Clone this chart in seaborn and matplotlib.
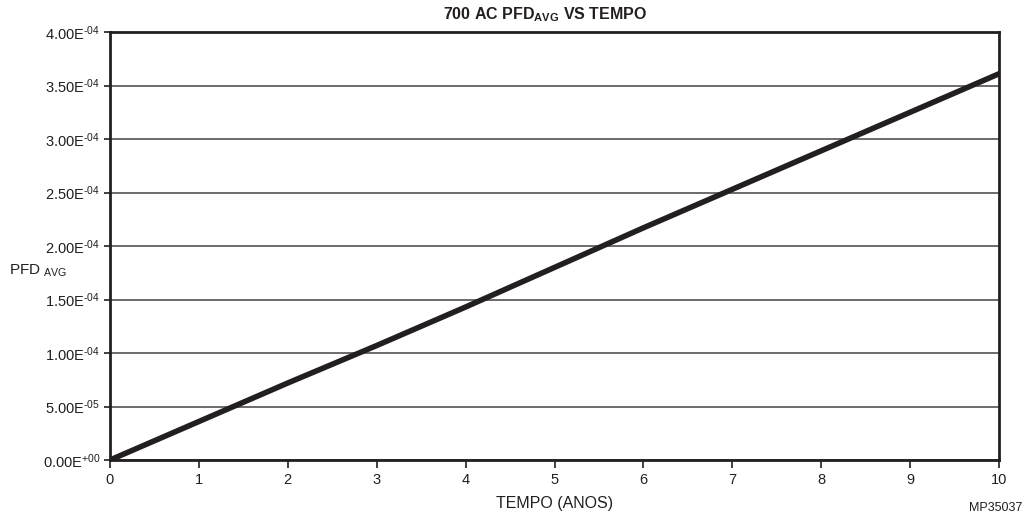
import numpy as np
import pandas as pd
import seaborn as sns
import matplotlib.pyplot as plt
from matplotlib.ticker import FixedLocator

# data
years = [0, 1, 2, 3, 4, 5, 6, 7, 8, 9, 10]
pfd_avg = [0.0, 3.6e-5, 7.2e-5, 1.07e-4, 1.43e-4, 1.80e-4, 2.17e-4,
           2.53e-4, 2.89e-4, 3.25e-4, 3.61e-4]
y_ticks = [0, 5e-5, 1e-4, 1.5e-4, 2e-4, 2.5e-4, 3e-4, 3.5e-4, 4e-4]
y_tick_labels = ["0.00E$^{\\text{+00}}$", "5.00E$^{\\text{-05}}$", "1.00E$^{\\text{-04}}$",
                 "1.50E$^{\\text{-04}}$", "2.00E$^{\\text{-04}}$", "2.50E$^{\\text{-04}}$",
                 "3.00E$^{\\text{-04}}$", "3.50E$^{\\text{-04}}$", "4.00E$^{\\text{-04}}$"]

df = pd.DataFrame({"tempo": years, "pfd": pfd_avg})

sns.set_style("white")
plt.rcParams['font.family'] = ['Liberation Sans', 'DejaVu Sans']
plt.rcParams['mathtext.fontset'] = 'custom'
plt.rcParams['mathtext.rm'] = 'Liberation Sans'
plt.rcParams['mathtext.bf'] = 'Liberation Sans:bold'
plt.rcParams['mathtext.default'] = 'regular'

ink = '#231f20'
fig = plt.figure(figsize=(10.26, 5.14), dpi=100)
ax = fig.add_axes([0.1072, 0.105, 0.8665, 0.8327])

ax.yaxis.set_major_locator(FixedLocator(y_ticks))
ax.yaxis.grid(True, color='#444444', linewidth=1.1)
ax.set_axisbelow(True)

sns.lineplot(data=df, x="tempo", y="pfd", ax=ax, color=ink, linewidth=4.0)

ax.set_xlim(0, 10)
ax.set_ylim(0, 4e-4)
ax.set_xticks(years)
ax.set_yticks(y_ticks)
ax.set_yticklabels(y_tick_labels)
ax.tick_params(axis='both', direction='out', width=1.2, color=ink,
               labelsize=10.5, labelcolor=ink, left=True, bottom=True)
ax.tick_params(axis='x', length=6, pad=3.4)
ax.tick_params(axis='y', length=4, pad=3)

for side in ax.spines.values():
    side.set_color(ink)
    side.set_linewidth(2.0)

ax.set_xlabel("TEMPO (ANOS)", fontsize=11.5, color=ink, va='center')
ax.xaxis.set_label_coords(0.5, -0.1005)
ax.set_ylabel("")
fig.text(0.009, 0.474, "PFD$_{\\ \\text{AVG}}$", fontsize=11, color=ink, ha='left', va='center')
ax.set_title("700 AC PFD$_{\\mathbf{AVG}}$ VS TEMPO", fontsize=11.5, fontweight='bold',
             color=ink, pad=9, x=0.489)
fig.text(0.996, 0.0117, "MP35037", fontsize=9, color=ink, ha='right', va='center')

plt.savefig("out.png", dpi=100)
